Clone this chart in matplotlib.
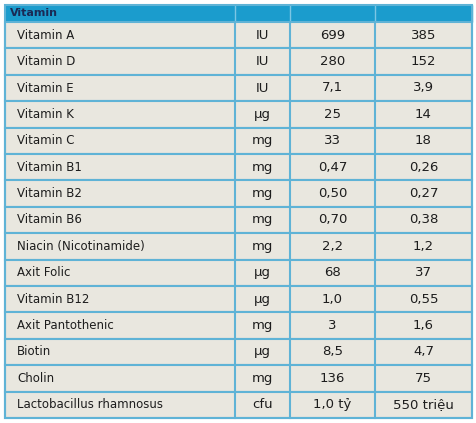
import matplotlib
matplotlib.use("Agg")
import matplotlib.pyplot as plt
from matplotlib.patches import Rectangle

header = "Vitamin"
names = ["Vitamin A", "Vitamin D", "Vitamin E", "Vitamin K", "Vitamin C",
         "Vitamin B1", "Vitamin B2", "Vitamin B6", "Niacin (Nicotinamide)",
         "Axit Folic", "Vitamin B12", "Axit Pantothenic", "Biotin", "Cholin",
         "Lactobacillus rhamnosus"]
units = ["IU", "IU", "IU", "µg", "mg", "mg", "mg", "mg", "mg", "µg", "µg",
         "mg", "µg", "mg", "cfu"]
col1 = ["699", "280", "7,1", "25", "33", "0,47", "0,50", "0,70", "2,2", "68",
        "1,0", "3", "8,5", "136", "1,0 tỷ"]
col2 = ["385", "152", "3,9", "14", "18", "0,26", "0,27", "0,38", "1,2", "37",
        "0,55", "1,6", "4,7", "75", "550 triệu"]

plt.rcParams["font.family"] = ["DejaVu Sans"]

fig = plt.figure(figsize=(4.77, 4.23), dpi=100)
ax = fig.add_axes([0, 0, 1, 1])
ax.set_xlim(0, 477)
ax.set_ylim(423, 0)
ax.axis("off")

xs = [5, 235, 290, 375, 472]
top, head_h, bottom = 5, 17, 418
row_h = (bottom - top - head_h) / len(names)
line_c = "#5fb3d6"
head_c = "#1b9ccd"
cell_c = "#e9e7df"

# 表头
ax.add_patch(Rectangle((xs[0], top), xs[-1] - xs[0], head_h, color=head_c, zorder=1))
for x in xs[1:-1]:
    ax.plot([x, x], [top, top + head_h], color="#7cc6e4", lw=1, zorder=2)
ax.text(xs[0] + 5, top + head_h / 2, header, va="center", ha="left",
        fontsize=8, fontweight="bold", color="#1a2a55")

# 数据行
for i, (n, u, a, b) in enumerate(zip(names, units, col1, col2)):
    y0 = top + head_h + i * row_h
    ax.add_patch(Rectangle((xs[0], y0), xs[-1] - xs[0], row_h,
                           facecolor=cell_c, edgecolor=line_c, lw=1.5, zorder=1))
    yc = y0 + row_h / 2
    ax.text(xs[0] + 12, yc, n, va="center", ha="left", fontsize=8.5, color="#1d1d1d")
    for j, v in enumerate([u, a, b]):
        ax.text((xs[j + 1] + xs[j + 2]) / 2, yc, v, va="center", ha="center",
                fontsize=9.5, color="#1d1d1d")
for x in xs[1:-1]:
    ax.plot([x, x], [top + head_h, bottom], color=line_c, lw=1.5, zorder=2)
ax.add_patch(Rectangle((xs[0], top), xs[-1] - xs[0], bottom - top,
                       fill=False, edgecolor=line_c, lw=1.5, zorder=3))

fig.savefig("out.png", dpi=100, facecolor="white")
